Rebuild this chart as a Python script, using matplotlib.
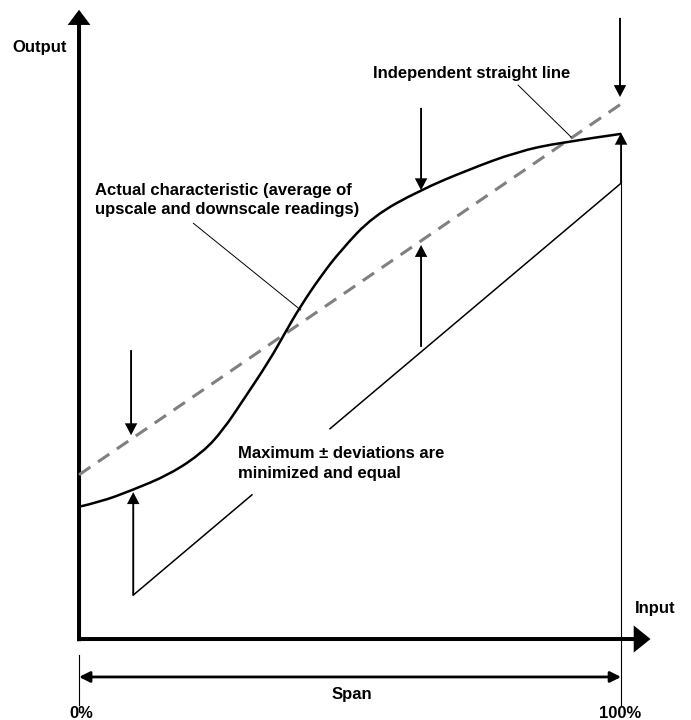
import numpy as np
import matplotlib.pyplot as plt
from matplotlib.path import Path
from matplotlib.patches import PathPatch

# Units: percent of span on both axes (input 0-100, output on the same scale)

# Actual characteristic (average of upscale and downscale readings)
curveX = [0, 3.9, 9.4, 16.8, 22.9, 26.6, 30.3, 35.2, 38.0, 40.8, 44.5, 48.2,
          54.2, 62.9, 71.6, 80.8, 88.7, 100]
curveY = [24.4, 25.3, 27.3, 30.4, 34.5, 38.6, 44.1, 51.5, 56.5, 61.3, 66.8, 71.6,
          78.0, 82.8, 86.5, 89.9, 91.6, 93.2]

# Independent straight line
lineX = [0, 101]
lineY = [30.3, 99.4]

# Lower reference line (broken where the text sits)
lowerX1 = [10, 31.9]
lowerY1 = [8.1, 26.6]
lowerX2 = [46.3, 100]
lowerY2 = [38.8, 84.1]

# deviation arrows: x, start y, end y
upArrowX = [10, 63.1, 100]
upArrowFrom = [8.1, 53.9, 84.1]
upArrowTo = [27.1, 72.7, 93.4]
downArrowX = [9.6, 63.1, 99.8]
downArrowFrom = [53.3, 98.0, 114.6]
downArrowTo = [37.6, 82.8, 100.0]

spanY = -7.0
spanTicks = ["0%", "100%"]

fig = plt.figure(figsize=(6.91, 7.2), dpi=100)
ax = fig.add_axes([0, 0, 1, 1])
ax.set_xlim(-14.58, 112.9)
ax.set_ylim(-14.94, 117.9)
ax.axis('off')

font = dict(family='Liberation Sans', weight='bold', size=12)

# axes with arrow heads
ax.arrow(0, -0.4, 0, 116.5, width=0.74, head_width=4.2, head_length=2.8,
         length_includes_head=True, color='k', lw=0)
ax.arrow(-0.37, 0, 105.8, 0, width=0.74, head_width=5.0, head_length=3.1,
         length_includes_head=True, color='k', lw=0)

# straight line
ax.plot(lineX, lineY, color='#808080', lw=2.2, dashes=(4.5, 3.0), zorder=2)

# actual curve: smooth quadratic path through the read points
pts = np.column_stack([curveX, curveY]).astype(float)
verts = [pts[0]]
codes = [Path.MOVETO]
for i in range(1, len(pts) - 1):
    mid = (pts[i] + pts[i + 1]) / 2
    if i == len(pts) - 2:
        mid = pts[i + 1]
    verts += [pts[i], mid]
    codes += [Path.CURVE3, Path.CURVE3]
curve = PathPatch(Path(verts, codes), facecolor='none', edgecolor='k', lw=1.8, zorder=3)
ax.add_patch(curve)

ax.plot(lowerX1, lowerY1, color='k', lw=1.1)
ax.plot(lowerX2, lowerY2, color='k', lw=1.1)

for i in range(len(upArrowX)):
    ax.arrow(upArrowX[i], upArrowFrom[i], 0, upArrowTo[i] - upArrowFrom[i],
             width=0.35, head_width=2.3, head_length=2.2,
             length_includes_head=True, color='k', lw=0, zorder=4)
for i in range(len(downArrowX)):
    ax.arrow(downArrowX[i], downArrowFrom[i], 0, downArrowTo[i] - downArrowFrom[i],
             width=0.35, head_width=2.3, head_length=2.2,
             length_includes_head=True, color='k', lw=0, zorder=4)

# span marker
ax.plot([0, 0], [-3.0, -12.2], color='k', lw=0.8)
ax.plot([100, 100], [84.7, -12.2], color='k', lw=0.8)
ax.annotate('', xy=(0, spanY), xytext=(100, spanY),
            arrowprops=dict(arrowstyle='<|-|>', lw=2, color='k',
                            mutation_scale=16, shrinkA=0, shrinkB=0))
ax.text(50.4, -10.3, "Span", ha='center', va='center', **font)
ax.text(0.5, -13.7, spanTicks[0], ha='center', va='center', **font)
ax.text(99.8, -13.7, spanTicks[1], ha='center', va='center', **font)

ax.text(-7.2, 109.2, "Output", ha='center', va='center', **font)
ax.text(102.6, 5.7, "Input", ha='left', va='center', **font)

# labels and leader lines
ax.text(54.2, 104.4, "Independent straight line", ha='left', va='center', **font)
ax.plot([81.0, 90.8], [102.2, 92.6], color='k', lw=0.7)

ax.text(2.95, 82.8, "Actual characteristic (average of", ha='left', va='center', **font)
ax.text(2.95, 79.2, "upscale and downscale readings)", ha='left', va='center', **font)
ax.plot([21.1, 40.9], [76.7, 60.7], color='k', lw=0.7)

ax.text(29.3, 34.3, "Maximum \u00b1 deviations are", ha='left', va='center', **font)
ax.text(29.3, 30.6, "minimized and equal", ha='left', va='center', **font)

plt.savefig('out.png', dpi=100)
